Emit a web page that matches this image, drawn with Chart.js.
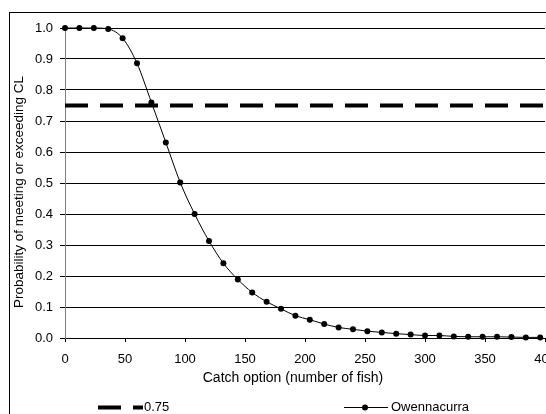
<!DOCTYPE html>
<html>
<head>
<meta charset="utf-8">
<script src="https://cdn.jsdelivr.net/npm/chart.js@4/dist/chart.umd.min.js"></script>
<style>
  html, body { margin: 0; padding: 0; overflow: hidden; background: #fff; }
  #wrap { position: absolute; left: 0; top: 0; width: 600px; height: 440px; }
</style>
</head>
<body>
<div id="wrap"><canvas id="c"></canvas></div>
<script>
// ---- data ----
const catchOptions = [0,12,24,36,48,60,72,84,96,108,120,132,144,156,168,180,192,204,216,228,240,252,264,276,288,300,312,324,336,348,360,372,384,396];
const probOwennacurra = [1.0,1.0,1.0,0.997,0.967,0.886,0.760,0.631,0.502,0.400,0.313,0.241,0.189,0.147,0.117,0.094,0.072,0.059,0.045,0.034,0.028,0.022,0.018,0.014,0.011,0.008,0.008,0.005,0.004,0.004,0.004,0.003,0.002,0.002];
const thresholdX = [0, 400];
const thresholdY = [0.75, 0.75];
const seriesLabels = ['0.75', 'Owennacurra'];
const xTitle = 'Catch option (number of fish)';
const yTitle = 'Probability of meeting or exceeding CL';
const xTicks = { min: 0, max: 400, step: 50 };
const yTicks = { min: 0, max: 1, step: 0.1 };

const FONT = '"Liberation Sans", Arial, sans-serif';

const decorPlugin = {
  id: 'decor',
  afterDraw(chart) {
    const ctx = chart.ctx;
    ctx.save();
    // outer chart border
    ctx.strokeStyle = '#000';
    ctx.lineWidth = 1;
    ctx.strokeRect(9.5, 12.5, 800, 600);

    // axis titles
    ctx.fillStyle = '#000';
    ctx.font = '14px ' + FONT;
    ctx.textAlign = 'center';
    ctx.textBaseline = 'middle';
    ctx.fillText(xTitle, 293, 378);
    ctx.save();
    ctx.translate(19, 192);
    ctx.rotate(-Math.PI / 2);
    ctx.font = '13.5px ' + FONT;
    ctx.fillText(yTitle, 0, 0);
    ctx.restore();

    // legend
    const ly = 407.5;
    ctx.lineCap = 'butt';
    ctx.strokeStyle = '#000';
    ctx.lineWidth = 4;
    ctx.beginPath();
    ctx.moveTo(98, ly); ctx.lineTo(121, ly);
    ctx.moveTo(133, ly); ctx.lineTo(143, ly);
    ctx.stroke();
    ctx.font = '13px ' + FONT;
    ctx.textAlign = 'left';
    ctx.fillText(chart.data.datasets[0].label, 144, ly);

    ctx.lineWidth = 1;
    ctx.beginPath();
    ctx.moveTo(344, ly); ctx.lineTo(388, ly);
    ctx.stroke();
    ctx.beginPath();
    ctx.arc(365, ly, 3, 0, Math.PI * 2);
    ctx.fill();
    ctx.fillText(chart.data.datasets[1].label, 391, ly);
    ctx.restore();
  }
};

new Chart(document.getElementById('c'), {
  type: 'line',
  data: {
    datasets: [
      {
        label: seriesLabels[0],
        data: thresholdX.map((x, i) => ({ x, y: thresholdY[i] })),
        borderColor: '#000',
        borderWidth: 4,
        borderDash: [23, 12],
        pointRadius: 0,
        fill: false,
        order: 2
      },
      {
        label: seriesLabels[1],
        data: catchOptions.map((x, i) => ({ x, y: probOwennacurra[i] })),
        borderColor: '#000',
        backgroundColor: '#000',
        borderWidth: 1,
        pointRadius: 3,
        pointBackgroundColor: '#000',
        pointBorderWidth: 0,
        cubicInterpolationMode: 'monotone',
        fill: false,
        clip: false,
        order: 1
      }
    ]
  },
  options: {
    responsive: true,
    maintainAspectRatio: false,
    animation: false,
    devicePixelRatio: 1,
    layout: { padding: { left: 0, top: 28, right: 55, bottom: 52 } },
    plugins: {
      legend: { display: false },
      tooltip: { enabled: false }
    },
    scales: {
      x: {
        type: 'linear',
        min: xTicks.min,
        max: xTicks.max,
        afterFit(s) { s.height = 50; },
        ticks: {
          stepSize: xTicks.step,
          color: '#000',
          font: { family: FONT, size: 13 },
          padding: 10,
          maxRotation: 0
        },
        grid: {
          drawOnChartArea: false,
          drawTicks: true,
          tickLength: 4,
          tickColor: '#000'
        },
        border: { display: true, color: '#000', width: 1 }
      },
      y: {
        type: 'linear',
        min: yTicks.min,
        max: yTicks.max,
        afterFit(s) { s.width = 65; },
        ticks: {
          stepSize: yTicks.step,
          color: '#000',
          font: { family: FONT, size: 13 },
          padding: 7,
          callback: v => Number(v).toFixed(1)
        },
        grid: {
          color: '#000',
          lineWidth: 1,
          drawTicks: true,
          tickLength: 5,
          tickColor: '#000'
        },
        border: { display: true, color: '#808080', width: 1 }
      }
    }
  },
  plugins: [decorPlugin]
});
</script>
</body>
</html>
